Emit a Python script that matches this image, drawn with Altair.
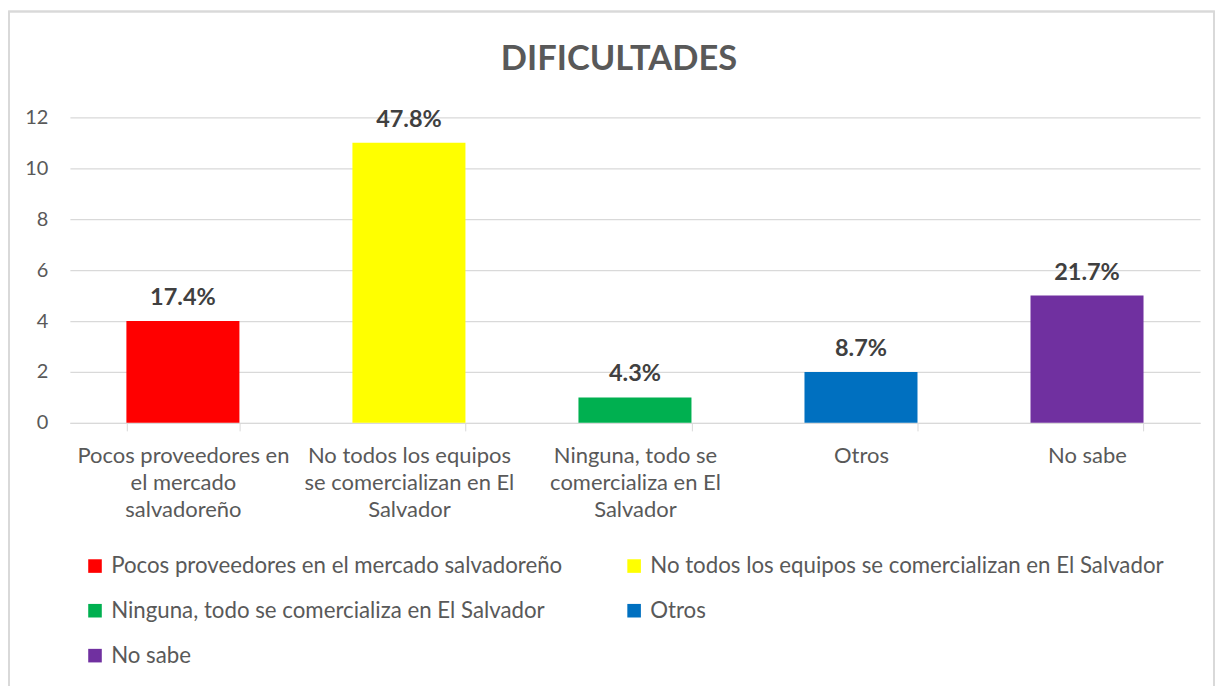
import altair as alt
import pandas as pd

categories = [
    "Pocos proveedores en el mercado salvadoreño",
    "No todos los equipos se comercializan en El Salvador",
    "Ninguna, todo se comercializa en El Salvador",
    "Otros",
    "No sabe",
]
wrapped = [
    ["Pocos proveedores en", "el mercado", "salvadoreño"],
    ["No todos los equipos", "se comercializan en El", "Salvador"],
    ["Ninguna, todo se", "comercializa en El", "Salvador"],
    ["Otros"],
    ["No sabe"],
]
counts = [4, 11, 1, 2, 5]
pct_labels = ["17.4%", "47.8%", "4.3%", "8.7%", "21.7%"]
colors = ["#FF0000", "#FFFF00", "#00B050", "#0070C0", "#7030A0"]
title_text = ["DIFICULTADES"]

df = pd.DataFrame({"cat": categories, "count": counts, "pct": pct_labels})
title_df = pd.DataFrame({"t": title_text})

# legend laid out column-first by Vega: reorder so it reads row by row
legend_order = [0, 2, 4, 1, 3]
legend_domain = [categories[i] for i in legend_order]
legend_range = [colors[i] for i in legend_order]


def js_str(s):
    return "'" + s.replace("'", "\\'") + "'"


expr = "datum.label"
for c, w in reversed(list(zip(categories, wrapped))):
    arr = "[" + ",".join(js_str(x) for x in w) + "]"
    expr = f"datum.label == {js_str(c)} ? {arr} : ({expr})"

FONT = "Lato"
GREY = "#595959"

x = alt.X(
    "cat:N",
    sort=categories,
    title=None,
    scale=alt.Scale(paddingInner=0.5, paddingOuter=0.25),
    axis=alt.Axis(
        labelAngle=0,
        labelExpr=expr,
        labelFont=FONT,
        labelFontSize=22,
        labelColor=GREY,
        labelPadding=15,
        labelLineHeight=27,
        labelLimit=300,
        domainColor="#d9d9d9",
        tickColor="#d9d9d9",
        tickBand="extent",
        tickSize=8,
        grid=False,
    ),
)
y = alt.Y(
    "count:Q",
    title=None,
    scale=alt.Scale(domain=[0, 12]),
    axis=alt.Axis(
        values=[0, 2, 4, 6, 8, 10, 12],
        labelFont=FONT,
        labelFontSize=20,
        labelColor=GREY,
        labelPadding=22,
        domain=False,
        ticks=False,
        gridColor="#d9d9d9",
        gridWidth=1.3,
    ),
)

border = alt.Chart(df).mark_rect(fill=None, stroke="#d9d9d9", strokeWidth=1.5).encode(
    x=alt.value(-61), x2=alt.value(1146), y=alt.value(-106), y2=alt.value(575)
)

title = alt.Chart(title_df).mark_text(
    font=FONT, fontSize=34.5, fontWeight="bold", color=GREY, baseline="middle", align="center"
).encode(x=alt.value(550), y=alt.value(-57), text="t:N")

bars = alt.Chart(df).mark_bar().encode(
    x=x,
    y=y,
    color=alt.Color(
        "cat:N",
        scale=alt.Scale(domain=legend_domain, range=legend_range),
        legend=alt.Legend(
            title=None,
            orient="none",
            legendX=14,
            legendY=438,
            columns=2,
            columnPadding=60,
            rowPadding=22,
            symbolType="square",
            symbolSize=185,
            symbolStrokeWidth=0,
            labelFont=FONT,
            labelFontSize=22.3,
            labelColor=GREY,
            labelOffset=5,
            labelLimit=700,
        ),
    ),
)

text = alt.Chart(df).mark_text(
    dy=-23, font=FONT, fontSize=23.5, fontWeight="bold", color="#404040"
).encode(x=alt.X("cat:N", sort=categories), y="count:Q", text="pct:N")

chart = (
    alt.layer(border, title, bars, text)
    .properties(
        width=1132,
        height=306,
        autosize=alt.AutoSizeParams(type="none"),
        padding={"left": 62, "top": 109, "right": 15, "bottom": 263},
    )
    .configure_view(stroke=None)
)

chart.save("out.html", embed_options={"renderer": "svg", "actions": False})
